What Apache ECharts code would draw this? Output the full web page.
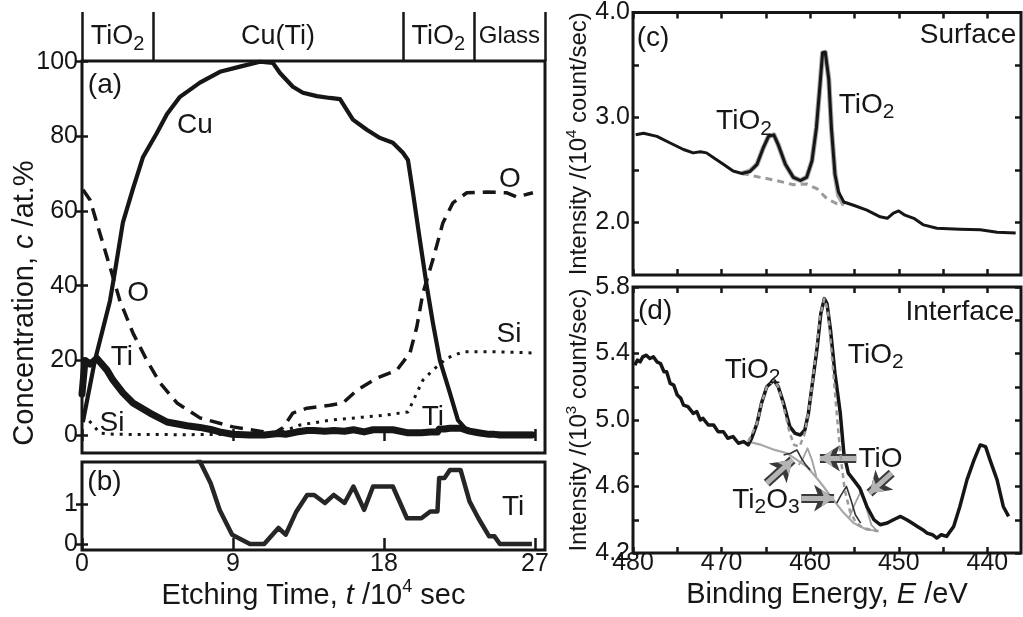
<!DOCTYPE html>
<html><head><meta charset="utf-8">
<script src="https://cdn.jsdelivr.net/npm/echarts@6/dist/echarts.min.js"></script>
<style>html,body{margin:0;padding:0;background:#fff}#c{width:1023px;height:617px}</style>
</head><body><div id="c"></div>
<script>
// ---------- Data: (a)/(b) depth profile, etching time (10^4 s) vs at.% ----------
const cuData = [[0.05,3.5],[0.77,20],[1.67,36],[1.97,44],[2.44,57],[3.04,66],[3.64,74.5],[4.47,81],[5.07,86],[5.84,90.6],[7.03,94.4],[8.22,97.3],[9.42,98.7],[10.61,100],[11.38,99.7],[11.8,97],[12.57,93.3],[13.17,91.7],[14.0,90.8],[14.78,90.3],[15.38,90],[16.15,84.5],[16.98,81.8],[17.76,79.6],[18.53,78.3],[19.13,75.6],[19.43,73.7],[19.73,64.9],[20.14,52.3],[20.56,39.7],[20.92,30],[21.33,20.1],[21.93,11.3],[22.41,4],[22.94,1.3],[23.72,0.5],[25,0.3],[27.0,0.3]];
const oData = [[0.06,65.7],[0.48,63],[1.07,54],[1.67,45],[2.26,36],[3.04,27.3],[3.87,20],[4.65,14],[5.66,8.6],[7.03,4.6],[9.0,2.2],[10.61,1.0],[11.5,0.6],[11.98,2],[12.57,5.9],[13.41,7.2],[14.78,8],[15.55,8.6],[16.39,12],[17.58,15.3],[18.77,17.4],[19.55,22],[19.96,29],[20.32,38],[20.92,47],[21.51,56.8],[22.11,62.2],[22.94,64.9],[24.14,65.1],[25.33,64.9],[25.92,63.8],[26.88,64.9]];
const siData = [[0.06,5.5],[0.6,3],[1.07,0.5],[2,0.2],[6,0.1],[11.0,0.3],[12.0,1.0],[13.0,2.7],[14.78,4],[16.75,4.8],[18.18,5.4],[19.43,6.2],[19.96,11.3],[20.32,14.7],[20.92,17.4],[21.75,20.6],[22.71,22.3],[24.73,22.3],[26.88,22]];
const tiData = [[0,11],[0.18,20],[0.48,19],[0.89,20.5],[1.49,17.4],[1.85,14.7],[2.44,11.3],[3.04,8.6],[4.05,5.9],[5.07,3.5],[6.26,2.5],[7.03,2.05],[7.67,1.51],[8.2,0.85],[8.95,0.23],[10.01,0],[10.86,0],[11.71,0.4],[12.14,0.23],[12.78,0.81],[13.42,1.22],[13.84,1.22],[14.48,1.02],[15.01,1.22],[15.65,1.02],[16.18,1.43],[16.82,0.85],[17.35,1.43],[18.53,1.43],[19.37,0.64],[20.23,0.64],[20.76,0.81],[21.19,0.81],[21.29,1.64],[21.61,1.64],[21.93,1.84],[22.57,1.84],[23.1,1.06],[23.63,0.64],[24.27,0.19],[24.59,0.19],[24.91,0],[26.82,0]];
const timeTicks = [0, 9, 18, 27];
const concTicks = [0, 20, 40, 60, 80, 100];
const tiZoomTicks = [0, 1];
const layerBounds = [0, 4.23, 19.13, 23.36, 27.6];
const layerNames = ['{n|TiO}{s|2}', '{n|Cu(Ti)}', '{n|TiO}{s|2}', '{g|Glass}'];

// ---------- Data: (c) surface XPS, binding energy (eV) vs 10^4 count/s ----------
const surfaceData = [[479.7,2.835],[478.8,2.85],[477.3,2.82],[475.8,2.757],[474.3,2.695],[473.2,2.663],[472.4,2.673],[471.7,2.663],[470.9,2.617],[469.8,2.554],[468.7,2.49],[467.7,2.467],[466.8,2.486],[466.0,2.554],[465.3,2.71],[464.7,2.82],[464.1,2.835],[463.6,2.74],[462.8,2.554],[461.9,2.43],[461.1,2.40],[460.4,2.43],[459.8,2.585],[459.3,2.90],[458.9,3.30],[458.6,3.616],[458.3,3.622],[457.9,3.366],[457.6,2.897],[457.2,2.46],[456.8,2.29],[456.2,2.195],[455.1,2.164],[453.6,2.117],[452.1,2.054],[451.3,2.04],[450.6,2.09],[450.0,2.11],[449.3,2.07],[448.3,2.04],[447.2,1.977],[445.7,1.946],[443.1,1.936],[440.8,1.93],[438.9,1.908],[436.8,1.90]];
const surfaceBg = [[467.7,2.467],[465.6,2.43],[463.8,2.40],[461.9,2.36],[460.4,2.367],[459.2,2.32],[458.1,2.226],[457.0,2.18],[456.2,2.17]];
const surfaceFit = [[467.7,2.467],[466.8,2.49],[466.0,2.554],[465.3,2.71],[464.7,2.82],[464.1,2.835],[463.6,2.74],[462.8,2.554],[461.9,2.43],[461.1,2.40],[460.4,2.43],[459.8,2.585],[459.3,2.90],[458.9,3.30],[458.6,3.616],[458.3,3.622],[457.9,3.366],[457.6,2.897],[457.2,2.46],[456.8,2.26],[456.2,2.17]];
const energyTicks = [480, 475, 470, 465, 460, 455, 450, 445, 440];
const energyLabels = [480, 470, 460, 450, 440];
const surfTicks = [2.0, 2.5, 3.0, 3.5, 4.0];
const surfLabels = [2.0, 3.0, 4.0];

// ---------- Data: (d) interface XPS, binding energy (eV) vs 10^3 count/s ----------
const interfaceData = [[479.8,5.33],[479.5,5.36],[479.2,5.35],[478.9,5.38],[478.5,5.39],[478.1,5.37],[477.7,5.38],[477.3,5.35],[476.9,5.34],[476.5,5.29],[476.2,5.29],[475.8,5.22],[475.4,5.21],[475.0,5.15],[474.6,5.13],[474.3,5.09],[473.8,5.08],[473.2,5.04],[472.8,5.05],[472.4,5.0],[472.1,5.01],[471.5,4.97],[470.9,4.97],[470.4,4.93],[469.8,4.93],[469.3,4.89],[468.7,4.9],[468.1,4.86],[467.5,4.87],[467.0,4.85],[466.6,4.89],[466.0,4.98],[465.5,5.10],[464.9,5.20],[464.1,5.24],[463.6,5.20],[463.0,5.10],[462.3,4.96],[461.7,4.92],[461.1,4.91],[460.6,4.94],[460.2,5.04],[459.8,5.20],[459.2,5.44],[458.8,5.64],[458.4,5.73],[458.1,5.70],[457.7,5.54],[457.2,5.28],[456.6,5.04],[456.2,4.80],[455.7,4.68],[455.1,4.64],[454.4,4.59],[453.6,4.48],[452.8,4.40],[452.1,4.37],[451.3,4.38],[450.6,4.40],[449.8,4.42],[449.1,4.40],[448.5,4.38],[447.9,4.36],[447.3,4.34],[446.8,4.32],[446.2,4.31],[445.7,4.29],[445.2,4.31],[444.6,4.30],[443.8,4.36],[443.1,4.48],[442.3,4.64],[441.5,4.76],[440.8,4.85],[440.2,4.84],[439.7,4.76],[438.9,4.64],[438.2,4.48],[437.6,4.42]];
const interfaceTiO2Fit = [[467.0,4.87],[466.0,4.98],[465.5,5.10],[464.9,5.20],[464.1,5.24],[463.6,5.20],[463.0,5.08],[462.3,4.92],[461.8,4.85],[461.2,4.84],[460.6,4.92],[460.0,5.12],[459.4,5.38],[458.9,5.62],[458.4,5.73],[458.0,5.66],[457.6,5.42],[457.1,5.10],[456.6,4.80],[456.1,4.58],[455.5,4.45],[454.8,4.38],[454.0,4.35],[452.3,4.33]];
const interfaceBg = [[467.0,4.87],[465.5,4.85],[464.0,4.82],[462.6,4.80],[461.5,4.76],[460.4,4.72],[459.4,4.66],[458.5,4.60],[457.4,4.52],[456.2,4.44],[455.1,4.38],[453.6,4.34],[452.3,4.334]];
const ti2o3Fit1 = [[463.0,4.79],[462.2,4.80],[461.5,4.82],[461.0,4.77],[460.5,4.73],[460.0,4.70]];
const ti2o3Fit2 = [[457.0,4.50],[456.5,4.55],[455.9,4.60],[455.4,4.52],[454.9,4.43],[454.3,4.38]];
const tioFit1 = [[461.3,4.73],[460.8,4.77],[460.3,4.83],[459.8,4.76],[459.3,4.66]];
const tioFit2 = [[455.6,4.41],[455.0,4.49],[454.2,4.58],[453.7,4.48],[453.1,4.37],[452.5,4.335]];
const intTicks = [4.2, 4.4, 4.6, 4.8, 5.0, 5.2, 5.4, 5.6, 5.8];
const intLabels = [4.2, 4.6, 5.0, 5.4, 5.8];
// arrows: [fromE, fromI, toE, toI]
const arrowsD = [[454.8,4.77,458.9,4.77],[450.8,4.68,453.3,4.56],[464.9,4.62,462.0,4.76],[461.0,4.53,457.3,4.53]];

// ---------- Annotations (data coordinates) ----------
const annotA = [[1.37,93.8,'{n|(a)}'],[6.73,83.0,'{n|Cu}'],[3.34,38.1,'{n|O}'],[2.38,20.9,'{n|Ti}'],[1.79,3.2,'{n|Si}'],[25.5,68.6,'{n|O}'],[25.45,27.1,'{n|Si}'],[20.92,4.85,'{n|Ti}']];
const annotB = [[1.34,1.54,'{n|(b)}'],[25.7,0.92,'{n|Ti}']];
const annotC = [[477.74,3.757,'{n|(c)}'],[442.18,3.785,'{n|Surface}'],[467.47,2.96,'{n|TiO}{s|2}'],[453.64,3.12,'{n|TiO}{s|2}']];
const annotD = [[477.5,5.656,'{n|(d)}'],[443.1,5.65,'{n|Interface}'],[466.5,5.30,'{n|TiO}{s|2}'],[452.6,5.39,'{n|TiO}{s|2}'],[452.06,4.765,'{n|TiO}'],[465.0,4.52,'{n|Ti}{s|2}{n|O}{s|3}']];

// ---------- Styling / building ----------
const INK = '#161616';
const FONT = "'Liberation Sans', Arial, Helvetica, sans-serif";
function rich(fs) {
  return {
    n: {fontSize: fs, fontFamily: FONT, color: INK},
    g: {fontSize: Math.round(fs*0.88), fontFamily: FONT, color: INK},
    i: {fontSize: fs, fontFamily: FONT, fontStyle: 'italic', color: INK},
    s: {fontSize: Math.round(fs*0.74), fontFamily: FONT, color: INK, padding: [Math.round(fs*0.55),0,0,0]},
    p: {fontSize: Math.round(fs*0.62), fontFamily: FONT, color: INK, padding: [0,0,Math.round(fs*0.6),0]}
  };
}
function ticks(vals) { return {show: true, inside: true, length: 6, lineStyle: {color: INK, width: 2.5}, customValues: vals}; }
function ax(o) {
  return Object.assign({type: 'value', axisLine: {show: false}, splitLine: {show: false}, axisLabel: {show: false}}, o);
}
function lbl(vals, margin, fmt) {
  return {show: true, customValues: vals, fontSize: 25, fontFamily: FONT, color: INK, margin: margin, formatter: fmt};
}
const f1 = v => Number(v).toFixed(1);

const xAxis = [
  ax({gridIndex: 0, min: 0, max: 27.6, position: 'bottom', axisTick: ticks(timeTicks)}),
  ax({gridIndex: 0, min: 0, max: 27.6, position: 'top', axisTick: ticks(timeTicks)}),
  ax({gridIndex: 1, min: 0, max: 27.6, position: 'bottom', axisTick: ticks(timeTicks), axisLabel: lbl(timeTicks, 2),
      name: '{n|Etching Time, }{i|t}{n| /10}{p|4}{n| sec}', nameLocation: 'middle', nameGap: 28, nameTextStyle: {rich: rich(29)}}),
  ax({gridIndex: 1, min: 0, max: 27.6, position: 'top', axisTick: ticks(timeTicks)}),
  ax({gridIndex: 2, min: 436.2, max: 480, inverse: true, position: 'bottom', axisTick: ticks(energyTicks)}),
  ax({gridIndex: 2, min: 436.2, max: 480, inverse: true, position: 'top', axisTick: ticks(energyTicks)}),
  ax({gridIndex: 3, min: 436.2, max: 480, inverse: true, position: 'bottom', axisTick: ticks(energyTicks), axisLabel: lbl(energyLabels, -2),
      name: '{n|Binding Energy, }{i|E}{n| /eV}', nameLocation: 'middle', nameGap: 27, nameTextStyle: {rich: rich(29)}}),
  ax({gridIndex: 3, min: 436.2, max: 480, inverse: true, position: 'top', axisTick: ticks(energyTicks)}),
  ax({gridIndex: 4, min: 0, max: 27.6, show: false})
];
const yAxis = [
  ax({gridIndex: 0, min: -4.8, max: 100.2, position: 'left', axisTick: ticks(concTicks), axisLabel: lbl(concTicks, 4)}),
  ax({gridIndex: 0, min: -4.8, max: 100.2, position: 'right', axisTick: ticks(concTicks)}),
  ax({gridIndex: 1, min: -0.15, max: 2.04, position: 'left', axisTick: ticks(tiZoomTicks), axisLabel: lbl(tiZoomTicks, 4)}),
  ax({gridIndex: 1, min: -0.15, max: 2.04, position: 'right', axisTick: ticks(tiZoomTicks)}),
  ax({gridIndex: 2, min: 1.5, max: 4.0, position: 'left', axisTick: ticks(surfTicks), axisLabel: lbl(surfLabels, 3, f1),
      name: '{n|Intensity /(10}{p|4}{n| count/sec)}', nameLocation: 'middle', nameGap: 39, nameTextStyle: {rich: rich(24)}}),
  ax({gridIndex: 2, min: 1.5, max: 4.0, position: 'right', axisTick: ticks(surfTicks)}),
  ax({gridIndex: 3, min: 4.2, max: 5.8, position: 'left', axisTick: ticks(intTicks), axisLabel: lbl(intLabels, 3, f1),
      name: '{n|Intensity /(10}{p|3}{n| count/sec)}', nameLocation: 'middle', nameGap: 39, nameTextStyle: {rich: rich(24)}}),
  ax({gridIndex: 3, min: 4.2, max: 5.8, position: 'right', axisTick: ticks(intTicks)}),
  ax({gridIndex: 4, min: 0, max: 1, show: false})
];
const gridStyle = {show: true, borderColor: INK, borderWidth: 3, backgroundColor: 'transparent'};
const grid = [
  Object.assign({left: 82, top: 61, width: 463, height: 392}, gridStyle),
  Object.assign({left: 82, top: 462, width: 463, height: 88}, gridStyle),
  Object.assign({left: 633, top: 8, width: 388, height: 267}, gridStyle),
  Object.assign({left: 633, top: 287, width: 388, height: 266}, gridStyle),
  {left: 82, top: 12, width: 463, height: 49, show: false}
];
function line(xi, yi, data, ls, z) {
  return {type: 'line', xAxisIndex: xi, yAxisIndex: yi, data: data, symbol: 'none', showSymbol: false, z: z || 2,
    lineStyle: Object.assign({color: INK, cap: 'butt', join: 'round', opacity: 1}, ls), silent: true};
}
function annot(xi, yi, list, fs) {
  return {type: 'scatter', xAxisIndex: xi, yAxisIndex: yi, symbolSize: 0, silent: true, z: 10,
    itemStyle: {opacity: 1},
    data: list.map(a => ({value: [a[0], a[1]], label: {formatter: a[2]}})),
    label: {show: true, position: 'inside', align: 'center', verticalAlign: 'middle', color: INK, opacity: 1,
      textBorderWidth: 0, rich: rich(fs)}};
}
function arrowSeries(color, width, size) {
  return {type: 'line', xAxisIndex: 6, yAxisIndex: 6, data: [], z: 8,
    markLine: {silent: true, animation: false, symbol: ['none', 'arrow'], symbolSize: size, label: {show: false},
      lineStyle: {color: color, width: width, type: 'solid', opacity: 1},
      emphasis: {disabled: true},
      data: arrowsD.map(a => [{coord: [a[0], a[1]]}, {coord: [a[2], a[3]]}])}};
}
const layerCenters = layerNames.map((n, i) => [(layerBounds[i] + layerBounds[i+1]) / 2, 0.5, n]);

const series = [
  line(0, 0, oData, {width: 3.5, type: [13, 8]}, 3),
  line(0, 0, siData, {width: 3, type: [3, 6]}, 3),
  line(0, 0, cuData, {width: 4.2}, 4),
  line(0, 0, tiData, {width: 7, cap: 'round'}, 5),
  line(2, 2, tiData, {width: 4.5, color: '#262626'}, 4),
  line(4, 4, surfaceBg, {width: 3, color: '#9a9a9a', type: [7, 5]}, 3),
  line(4, 4, surfaceFit, {width: 5, color: '#a6a6a6'}, 3),
  line(4, 4, surfaceData, {width: 3}, 4),
  line(6, 6, interfaceBg, {width: 2.2, color: '#a8a8a8'}, 3),
  line(6, 6, tioFit1, {width: 1.8, color: '#a0a0a0'}, 3),
  line(6, 6, tioFit2, {width: 1.8, color: '#a0a0a0'}, 3),
  line(6, 6, ti2o3Fit1, {width: 1.6, color: '#333'}, 3),
  line(6, 6, ti2o3Fit2, {width: 1.6, color: '#333'}, 3),
  line(6, 6, interfaceData, {width: 3.5}, 4),
  line(6, 6, interfaceTiO2Fit, {width: 2.5, color: '#9a9a9a', type: [5, 4]}, 5),
  arrowSeries('#3a3a3a', 9, 20),
  arrowSeries('#b4b4b4', 5, 13),
  annot(0, 0, annotA, 28),
  annot(2, 2, annotB, 28),
  annot(4, 4, annotC, 28),
  annot(6, 6, annotD, 28),
  {type: 'line', xAxisIndex: 8, yAxisIndex: 8, data: [], z: 6,
    markLine: {silent: true, animation: false, symbol: 'none', label: {show: false}, lineStyle: {color: INK, width: 2.5, type: 'solid'},
      emphasis: {disabled: true}, data: layerBounds.map(b => ({xAxis: b}))}},
  annot(8, 8, layerCenters, 27)
];

const chart = echarts.init(document.getElementById('c'), null, {renderer: 'canvas'});
chart.setOption({
  animation: false,
  backgroundColor: '#fff',
  grid: grid, xAxis: xAxis, yAxis: yAxis, series: series,
  graphic: [{type: 'text', x: 25, y: 303, rotation: Math.PI / 2, silent: true,
    style: {text: '{n|Concentration, }{i|c}{n| /at.%}', align: 'center', verticalAlign: 'middle', fill: INK,
      rich: {n: {fontSize: 29, fontFamily: FONT, fill: INK}, i: {fontSize: 29, fontFamily: FONT, fontStyle: 'italic', fill: INK}}}}]
});
</script></body></html>
